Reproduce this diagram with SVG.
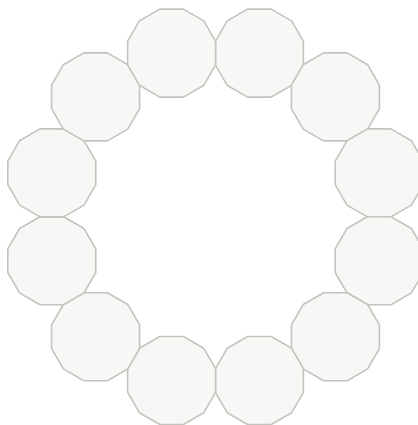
<svg xmlns="http://www.w3.org/2000/svg" xmlns:xlink="http://www.w3.org/1999/xlink" width="418" height="425" viewBox="0 0 418 425">
<style>
.cell{fill:#f7f7f5;stroke:#c4c4be;stroke-width:1.6;stroke-linejoin:round}
</style>
<defs>
<polygon id="dod" class="cell" points="44,11.79 32.21,32.21 11.79,44 -11.79,44 -32.21,32.21 -44,11.79 -44,-11.79 -32.21,-32.21 -11.79,-44 11.79,-44 32.21,-32.21 44,-11.79"/>
</defs>
<rect width="418" height="425" fill="#ffffff"/>
<g id="connectors"></g>
<g id="n1"><use xlink:href="#dod" href="#dod" x="259.4" y="53.1"/></g>
<g id="n2"><use xlink:href="#dod" href="#dod" x="335.4" y="96.9"/></g>
<g id="n3"><use xlink:href="#dod" href="#dod" x="379.2" y="172.9"/></g>
<g id="n4"><use xlink:href="#dod" href="#dod" x="379.2" y="260.7"/></g>
<g id="n5"><use xlink:href="#dod" href="#dod" x="335.4" y="336.7"/></g>
<g id="n6"><use xlink:href="#dod" href="#dod" x="259.4" y="380.5"/></g>
<g id="n7"><use xlink:href="#dod" href="#dod" x="171.6" y="380.5"/></g>
<g id="n8"><use xlink:href="#dod" href="#dod" x="95.6" y="336.7"/></g>
<g id="n9"><use xlink:href="#dod" href="#dod" x="51.8" y="260.7"/></g>
<g id="n10"><use xlink:href="#dod" href="#dod" x="51.8" y="172.9"/></g>
<g id="n11"><use xlink:href="#dod" href="#dod" x="95.6" y="96.9"/></g>
<g id="n12"><use xlink:href="#dod" href="#dod" x="171.6" y="53.1"/></g>
</svg>
